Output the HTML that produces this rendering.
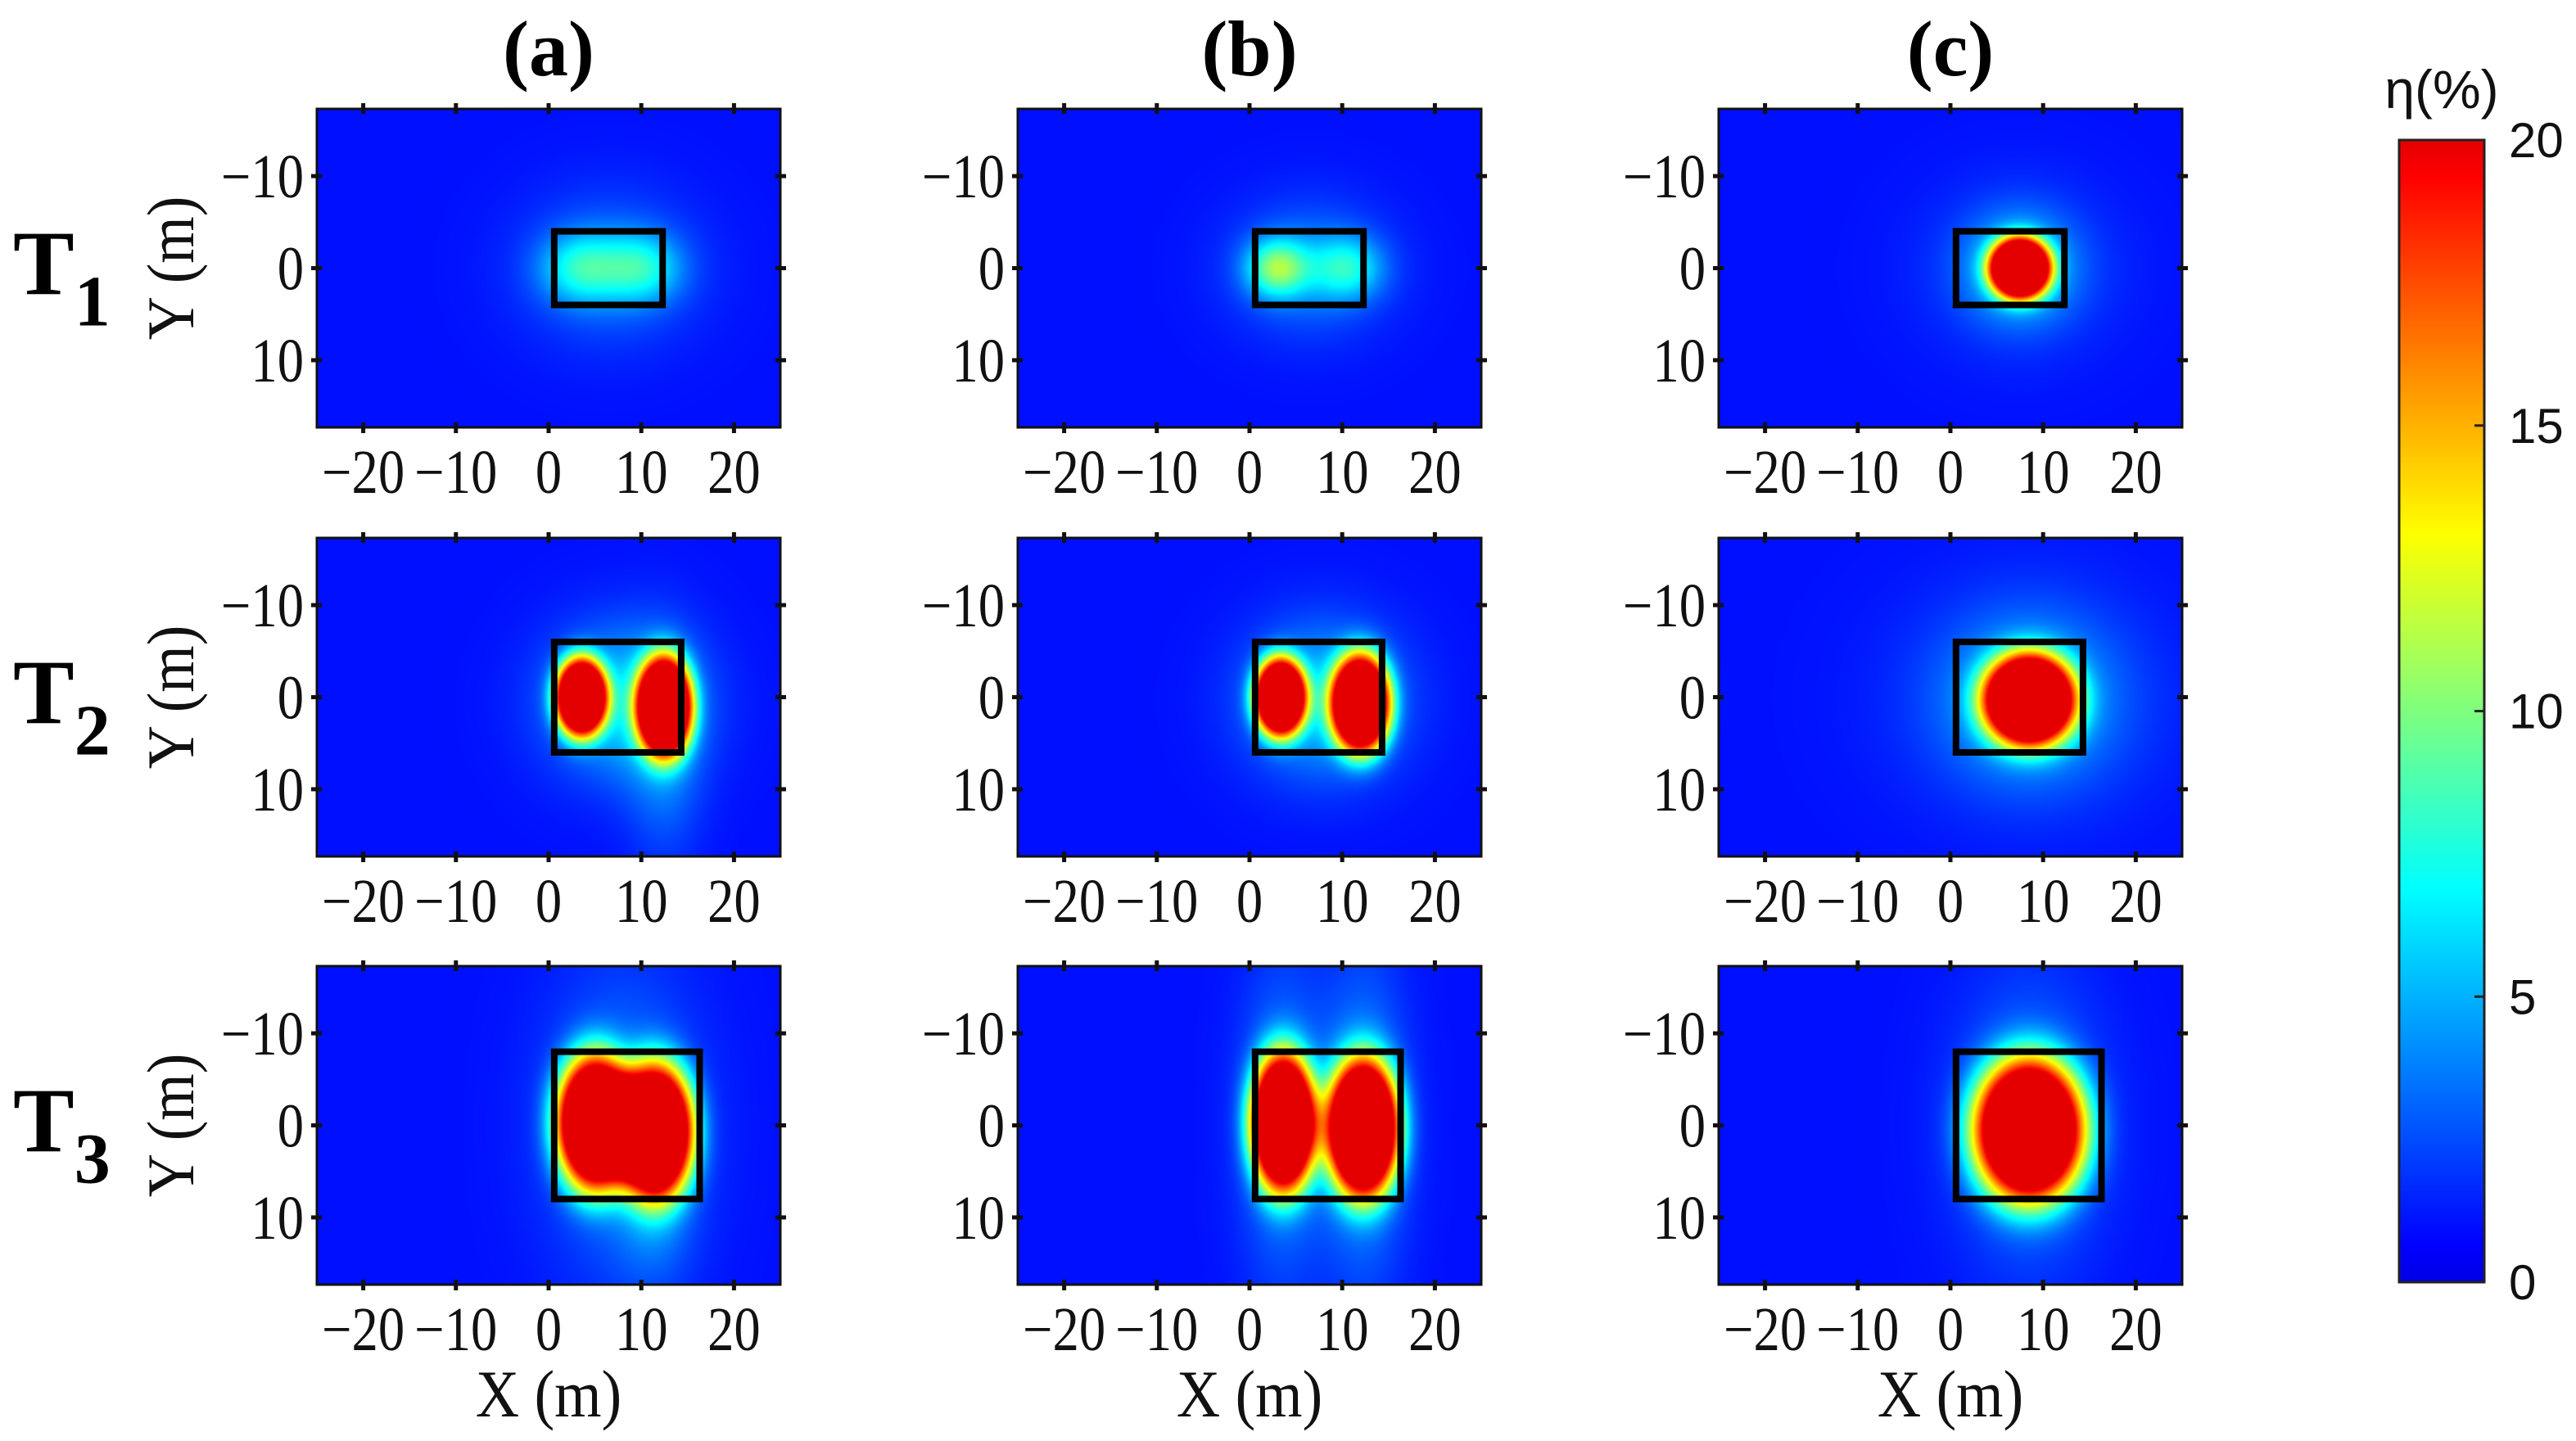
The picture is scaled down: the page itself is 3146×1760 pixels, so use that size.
<!DOCTYPE html>
<html><head><meta charset="utf-8">
<style>
html,body{margin:0;padding:0;background:#fff;}
#root{position:relative;width:3146px;height:1760px;overflow:hidden;background:#fff;}
canvas{position:absolute;}
svg{position:absolute;left:0;top:0;}
</style></head>
<body>
<div id="root">
<svg id="svg" width="3146" height="1760"></svg>
</div>
<script>
// ---- data ----
const colTitles = ["(a)", "(b)", "(c)"];
const rowLabels = ["1", "2", "3"];
const xTicks = [-20, -10, 0, 10, 20];
const yTicks = [-10, 0, 10];
const cbTicks = [0, 5, 10, 15, 20];
const xRange = [-25, 25];
const yRange = [-17.3, 17.3];
const vRange = [0, 20];
const background = 1;
// inversion target rectangles per row: [x0, y0, x1, y1]
const rects = [[0.6, -4, 12.3, 4], [0.6, -6, 14.3, 6], [0.6, -8, 16.3, 8]];
// sources per panel: [x, y, peak, sx, sy, power]
const srcA1 = [[3.5,0,5,4.2,3.6,1],[10,0,5,4.2,3.6,1],[6.5,0,2.5,9,8,1]];
const srcB1 = [[3,0,8,3.2,3,1],[10.5,0,5,3.8,3.3,1],[6.5,0,2.8,8,7,1]];
const srcC1 = [[7.5,0,30,3.3,3.3,1.5],[7.5,0,5,5.5,5.5,1],[7.5,0,1.5,10,9,1]];
const srcA2 = [[3.5,0,30,2.8,4.3,1.5],[12.5,1,30,3.0,5.5,1.5],[8,0.5,5,8,8,1],[12.5,6,2.5,4,11,1]];
const srcB2 = [[3.3,0,30,2.8,4.3,1.5],[12,0.7,30,3.2,5.4,1.5],[8,0.3,5,8,8,1]];
const srcC2 = [[8.5,0.3,30,5.0,5.0,1.5],[8.5,0.3,4,8.5,8.5,1],[8.5,0,1.5,14,12,1]];
const srcA3 = [[5,-0.3,30,4.2,7.4,1.5],[11.5,0.6,30,4.2,7.4,1.5],[8,0,3,8,16,1],[11.5,9,2,4,8,1]];
const srcB3 = [[3.6,-0.3,30,3.5,7.6,1.5],[12.3,0.3,30,3.9,7.6,1.5],[8,0,1.5,5,7,1],[3.5,0,3,4.5,17,1],[12.3,0,3.5,4.5,17,1]];
const srcC3 = [[8.5,0.5,30,6.0,7.8,1.5],[8.5,0,3,7.5,15,1]];
const panels = [[srcA1,srcB1,srcC1],[srcA2,srcB2,srcC2],[srcA3,srcB3,srcC3]];

// ---- layout ----
const colX = [387, 1243, 2099];
const rowY = [133, 657, 1180];
const PW = 566, PH = 389;
const cb = {x:2930, y:171, w:104, h:1395};

function jet(t){
  t = 0.1 + 0.8*Math.max(0,Math.min(1,t));
  const c = v => Math.max(0,Math.min(1,v));
  return [c(1.5-Math.abs(4*t-3))*255, c(1.5-Math.abs(4*t-2))*255, c(1.5-Math.abs(4*t-1))*255];
}
function field(src,x,y){
  let v = background;
  for(const s of src){
    const dx=(x-s[0])/s[3], dy=(y-s[1])/s[4];
    const r2=dx*dx+dy*dy;
    v += s[2]*Math.exp(-Math.pow(r2,s[5]));
  }
  return v;
}
const NS="http://www.w3.org/2000/svg";
const svg=document.getElementById('svg');
const root=document.getElementById('root');
function el(tag,attrs,parent){const e=document.createElementNS(NS,tag);for(const k in attrs)e.setAttribute(k,attrs[k]);(parent||svg).appendChild(e);return e;}

for(let r=0;r<3;r++){
  for(let c=0;c<3;c++){
    const px=colX[c], py=rowY[r];
    const sx = v => px + (v-xRange[0])/(xRange[1]-xRange[0])*PW;
    const sy = v => py + (v-yRange[0])/(yRange[1]-yRange[0])*PH;
    const cv=document.createElement('canvas');
    cv.width=PW; cv.height=PH;
    cv.style.left=px+'px'; cv.style.top=py+'px';
    
    
    root.insertBefore(cv, svg);
    const ctx=cv.getContext('2d');
    const img=ctx.createImageData(PW,PH);
    const src=panels[r][c];
    for(let j=0;j<PH;j++){
      const yv=yRange[0]+(j+0.5)/PH*(yRange[1]-yRange[0]);
      for(let i=0;i<PW;i++){
        const xv=xRange[0]+(i+0.5)/PW*(xRange[1]-xRange[0]);
        const v=field(src,xv,yv);
        const col=jet((v-vRange[0])/(vRange[1]-vRange[0]));
        const k=(j*PW+i)*4;
        img.data[k]=col[0];img.data[k+1]=col[1];img.data[k+2]=col[2];img.data[k+3]=255;
      }
    }
    ctx.putImageData(img,0,0);
    const g=el('g',{});
    
    
    const R=rects[r];
    const tr=el('rect',{x:sx(R[0]),y:sy(R[1]),width:sx(R[2])-sx(R[0]),height:sy(R[3])-sy(R[1]),fill:'none',stroke:'#000','stroke-width':8},g);
    
    
    const fr=el('rect',{x:px,y:py,width:PW,height:PH,fill:'none',stroke:'#111','stroke-width':3},g);
    
    
    for(const t of xTicks){
      const X=sx(t);
      el('line',{x1:X,y1:py-7,x2:X,y2:py+6,stroke:'#111','stroke-width':5},g);
      el('line',{x1:X,y1:py+PH-6,x2:X,y2:py+PH+7,stroke:'#111','stroke-width':5},g);
      const lg=el('g',{transform:`translate(${X},${py+PH+80}) scale(0.85,1)`},g);
      const tx=el('text',{x:0,y:0,'text-anchor':'middle','font-family':'Liberation Serif, serif','font-size':76,fill:'#111'},lg);
      tx.textContent=(t<0?'\u2212':'')+Math.abs(t);
      
      
    }
    for(const t of yTicks){
      const Y=sy(t);
      el('line',{x1:px-7,y1:Y,x2:px+6,y2:Y,stroke:'#111','stroke-width':5},g);
      el('line',{x1:px+PW-6,y1:Y,x2:px+PW+7,y2:Y,stroke:'#111','stroke-width':5},g);
      const lg=el('g',{transform:`translate(${px-16},${Y+26}) scale(0.85,1)`},g);
      const tx=el('text',{x:0,y:0,'text-anchor':'end','font-family':'Liberation Serif, serif','font-size':76,fill:'#111'},lg);
      tx.textContent=(t<0?'\u2212':'')+Math.abs(t);
      
      
    }
    if(r===0){
      const tt=el('text',{x:px+PW/2,y:92,'text-anchor':'middle','font-family':'Liberation Serif, serif','font-size':96,'font-weight':'bold',fill:'#000'});
      tt.textContent=colTitles[c];
      
      
    }
    if(r===2){
      const lg=el('g',{transform:`translate(${px+PW/2},${1730}) scale(0.9,1)`});
      const xt=el('text',{x:0,y:0,'text-anchor':'middle','font-family':'Liberation Serif, serif','font-size':82,fill:'#111'},lg);
      xt.textContent='X (m)';
      
      
    }
    if(c===0){
      const cy=py+PH/2;
      const lg=el('g',{transform:`translate(${236},${cy}) rotate(-90) scale(0.9,1)`});
      const yt=el('text',{x:0,y:0,'text-anchor':'middle','font-family':'Liberation Serif, serif','font-size':82,fill:'#111'},lg);
      yt.textContent='Y (m)';
      
      
      const rl=el('text',{x:16,y:cy+32,'font-family':'Liberation Serif, serif','font-size':112,'font-weight':'bold',fill:'#000'});
      
      
      const t1=el('tspan',{},rl); t1.textContent='T';
      const t2=el('tspan',{dy:38,'font-size':88},rl); t2.textContent=rowLabels[r];
    }
  }
}
// colorbar
const cbc=document.createElement('canvas');
cbc.width=cb.w; cbc.height=cb.h;
cbc.style.left=cb.x+'px'; cbc.style.top=cb.y+'px';


root.insertBefore(cbc, svg);
const cctx=cbc.getContext('2d');
for(let j=0;j<cb.h;j++){
  const col=jet(1-j/(cb.h-1));
  cctx.fillStyle=`rgb(${col[0]|0},${col[1]|0},${col[2]|0})`;
  cctx.fillRect(0,j,cb.w,1);
}
const cbf=el('rect',{x:cb.x,y:cb.y,width:cb.w,height:cb.h,fill:'none',stroke:'#222','stroke-width':3});


for(const t of cbTicks){
  const Y=cb.y+cb.h-(t-vRange[0])/(vRange[1]-vRange[0])*cb.h;
  if(t>vRange[0]&&t<vRange[1]) el('line',{x1:cb.x+cb.w-12,y1:Y,x2:cb.x+cb.w,y2:Y,stroke:'#222','stroke-width':3});
  const tx=el('text',{x:cb.x+134,y:Y+21,'font-family':'Liberation Sans, sans-serif','font-size':60,fill:'#111'});
  tx.textContent=String(t);
  
  
}
const cbt=el('text',{x:2982,y:132,'text-anchor':'middle','font-family':'Liberation Sans, DejaVu Sans, sans-serif','font-size':66,fill:'#111'});
cbt.textContent='η(%)';


</script>
</body></html>
